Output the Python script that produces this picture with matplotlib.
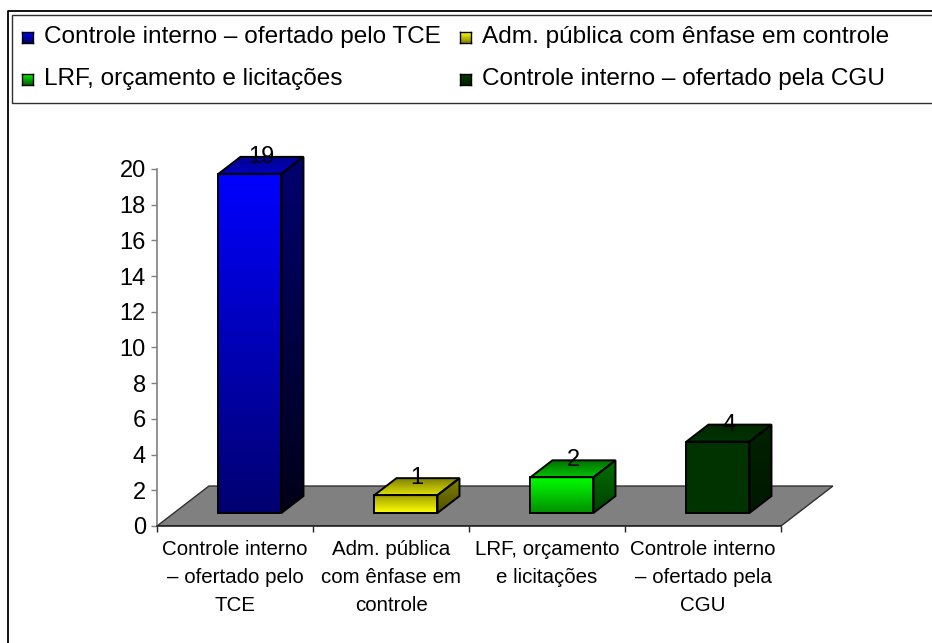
import numpy as np
import matplotlib
matplotlib.use("Agg")
import matplotlib.pyplot as plt
from matplotlib.patches import Polygon
from matplotlib.lines import Line2D
from matplotlib.colors import to_rgb

plt.rcParams["font.family"] = ["Liberation Sans", "DejaVu Sans"]

categories = ["Controle interno\n– ofertado pelo\nTCE",
              "Adm. pública\ncom ênfase em\ncontrole",
              "LRF, orçamento\ne licitações",
              "Controle interno\n– ofertado pela\nCGU"]
legend_labels = ["Controle interno – ofertado pelo TCE",
                 "Adm. pública com ênfase em controle",
                 "LRF, orçamento e licitações",
                 "Controle interno – ofertado pela CGU"]
values = [19, 1, 2, 4]
yticks = list(range(0, 21, 2))

# (top colour, bottom colour) for each face
front_cols = [("#0000ff", "#000070"), ("#a0a000", "#ffff00"),
              ("#00ff00", "#009000"), ("#003300", "#003300")]
side_cols = [("#000070", "#000018"), ("#808000", "#505000"),
             ("#007000", "#004000"), ("#002200", "#001800")]
top_cols = [("#000090", "#0000c0"), ("#808000", "#e0e000"),
            ("#007000", "#00c000"), ("#002a00", "#003300")]
marker_cols = [("#0000ff", "#000060"), ("#ffff00", "#808000"),
               ("#00ff00", "#006000"), ("#004000", "#002000")]

W, H = 932, 643
fig = plt.figure(figsize=(W / 100, H / 100), dpi=100)


def fx(px):
    return px / W


def fy(py):
    return 1 - py / H


# pixel geometry of the plot area
x0_px, cat_px = 157, 156.0
y0_px, val_px = 526, 17.85
xmax, ymax = 4.4, 22.0
ax = fig.add_axes([fx(x0_px), fy(y0_px),
                   xmax * cat_px / W, ymax * val_px / H])
ax.set_xlim(0, xmax)
ax.set_ylim(0, ymax)


def grad(c1, c2, n=64):
    g = np.linspace(0, 1, n)[:, None, None]
    return (1 - g) * np.array(to_rgb(c1)) + g * np.array(to_rgb(c2))


def shade(patch, c1, c2):
    xy = patch.get_patch_transform().transform(patch.get_path().vertices)
    xa, xb = xy[:, 0].min(), xy[:, 0].max()
    ya, yb = xy[:, 1].min(), xy[:, 1].max()
    im = ax.imshow(grad(c1, c2), extent=(xa, xb, ya, yb), origin="upper",
                   aspect="auto", interpolation="bilinear",
                   zorder=patch.get_zorder() - 0.01)
    im.set_clip_path(patch)


# floor
fdx, fdy = 0.333, 2.24
floor = Polygon([(0, 0), (4, 0), (4 + fdx, fdy), (fdx, fdy)],
                closed=True, fc="#808080", ec="#303030", lw=1, zorder=1)
ax.add_patch(floor)

# bars
base = 0.73
bw = 0.404
off = 0.394
bdx, bdy = 0.141, 0.95
xs = [i + off for i in range(len(values))]
bars = ax.bar(xs, values, width=bw, bottom=base, align="edge",
              fc="none", ec="black", lw=1.4, zorder=3)
for i, (b, v) in enumerate(zip(bars, values)):
    xl, xr = xs[i], xs[i] + bw
    top = base + v
    shade(b, *front_cols[i])
    side = Polygon([(xr, base), (xr + bdx, base + bdy), (xr + bdx, top + bdy), (xr, top)],
                   closed=True, fc="none", ec="black", lw=1.4, zorder=3)
    ax.add_patch(side)
    shade(side, *side_cols[i])
    tp = Polygon([(xl, top), (xr, top), (xr + bdx, top + bdy), (xl + bdx, top + bdy)],
                 closed=True, fc="none", ec="black", lw=1.4, zorder=3)
    ax.add_patch(tp)
    shade(tp, *top_cols[i])
    ax.text(xl + bw / 2 + bdx / 2, top + bdy, str(v), ha="center", va="center",
            fontsize=17, zorder=10)

ax.set_xlim(0, xmax)
ax.set_ylim(0, ymax)

# axes styling
for s in ["top", "right"]:
    ax.spines[s].set_visible(False)
ax.spines["left"].set_bounds(0, 20)
ax.spines["left"].set_color("#808080")
ax.spines["left"].set_linewidth(1.2)
ax.spines["bottom"].set_bounds(0, 4)
ax.spines["bottom"].set_color("#202020")
ax.spines["bottom"].set_linewidth(1.2)
ax.set_yticks(yticks)
ax.tick_params(axis="y", length=4.5, width=1, color="#808080", pad=3.5, labelsize=17)
ax.set_xticks(range(5))
ax.set_xticklabels([])
ax.set_xticks([i + 0.5 for i in range(4)], minor=True)
ax.set_xticklabels(categories, minor=True, fontsize=14.8, linespacing=1.6)
ax.tick_params(axis="x", which="major", length=4.5, width=1, color="#202020")
ax.tick_params(axis="x", which="minor", length=0, pad=10)
ax.patch.set_alpha(0)

# outer frame and legend box
fig.add_artist(Line2D([fx(8), fx(8), fx(945)], [fy(660), fy(11), fy(11)],
                      transform=fig.transFigure, color="black", lw=1.3))
fig.add_artist(Line2D([fx(945), fx(12), fx(12), fx(945)], [fy(15), fy(15), fy(103), fy(103)],
                      transform=fig.transFigure, color="#303030", lw=1))

# legend entries
pos = [(22, 37), (460, 37), (22, 79), (460, 79)]
for (px, py), lab, mc in zip(pos, legend_labels, marker_cols):
    m = fig.add_axes([fx(px), fy(py + 6), 11 / W, 11 / H])
    m.imshow(grad(*mc), aspect="auto", interpolation="bilinear")
    m.set_xticks([])
    m.set_yticks([])
    for s in m.spines.values():
        s.set_linewidth(1)
        s.set_color("black")
    fig.text(fx(px + 22), fy(py), lab, ha="left", va="center", fontsize=17.6)

fig.savefig("out.png", dpi=100)
